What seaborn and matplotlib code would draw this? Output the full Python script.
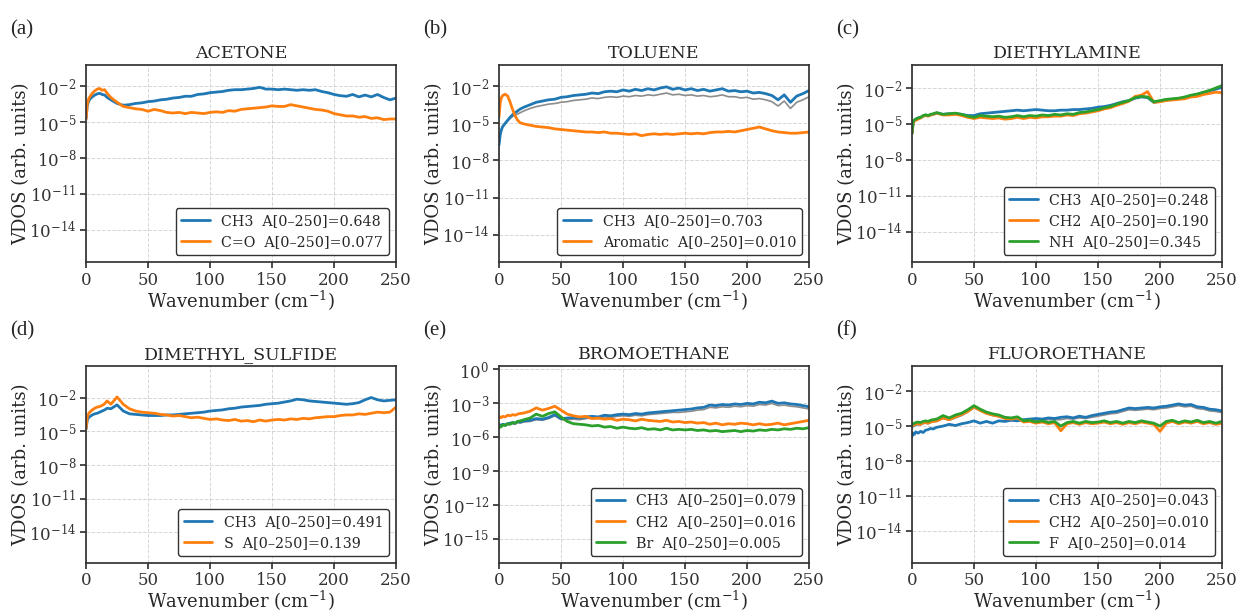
import matplotlib
matplotlib.use("Agg")
import matplotlib.pyplot as plt
from matplotlib.ticker import NullLocator
import numpy as np
import pandas as pd
import seaborn as sns

# wavenumber grid (cm^-1), denser at the low end where the peaks are
wavenumber = [0, 1, 2, 3, 5, 7, 9, 11, 13, 15, 17, 20, 25, 30, 35, 40, 45, 50, 55, 60,
              65, 70, 75, 80, 85, 90, 95, 100, 105, 110, 115, 120, 125, 130, 135, 140,
              145, 150, 155, 160, 165, 170, 175, 180, 185, 190, 195, 200, 205, 210, 215,
              220, 225, 230, 235, 240, 245, 250]

# log10(VDOS)
acetone_ch3 = [-4.7, -3.6, -3.3, -3.1, -2.9, -2.75, -2.65, -2.6, -2.7, -2.75, -2.95, -3.15, -3.45, -3.6,
               -3.55, -3.45, -3.4, -3.3, -3.25, -3.15, -3.1, -3.0, -2.95, -2.85, -2.85, -2.7, -2.65,
               -2.55, -2.5, -2.45, -2.35, -2.3, -2.3, -2.25, -2.2, -2.1, -2.25, -2.25, -2.3, -2.25,
               -2.3, -2.35, -2.3, -2.35, -2.3, -2.45, -2.55, -2.7, -2.8, -2.85, -2.7, -2.9, -2.75,
               -2.9, -2.7, -2.95, -3.15, -3.0]
acetone_co = [-4.8, -3.5, -3.1, -2.9, -2.6, -2.4, -2.25, -2.2, -2.35, -2.3, -2.6, -2.95, -3.35, -3.7,
              -3.8, -3.9, -3.95, -4.1, -3.95, -4.05, -4.2, -4.25, -4.2, -4.3, -4.2, -4.25, -4.3, -4.2,
              -4.15, -4.2, -4.05, -4.1, -3.95, -3.9, -3.85, -3.8, -3.75, -3.65, -3.7, -3.7, -3.55,
              -3.65, -3.75, -3.85, -3.95, -4.0, -4.1, -4.3, -4.4, -4.5, -4.5, -4.6, -4.55, -4.7,
              -4.65, -4.8, -4.75, -4.75]

toluene_ch3 = [-6.75, -5.9, -5.5, -5.25, -5.0, -4.75, -4.5, -4.3, -4.15, -4.0, -3.85, -3.7, -3.5, -3.3,
               -3.2, -3.1, -3.05, -2.9, -2.85, -2.75, -2.7, -2.65, -2.55, -2.6, -2.45, -2.4, -2.45,
               -2.3, -2.4, -2.25, -2.35, -2.2, -2.3, -2.15, -2.05, -2.25, -2.15, -2.3, -2.2, -2.35,
               -2.25, -2.4, -2.3, -2.2, -2.4, -2.35, -2.45, -2.4, -2.55, -2.5, -2.6, -2.75, -3.1,
               -2.7, -3.3, -2.8, -2.6, -2.35]
toluene_gray = [-6.75, -5.9, -5.5, -5.25, -5.0, -4.8, -4.6, -4.45, -4.35, -4.25, -4.15, -4.0, -3.8, -3.65,
                -3.55, -3.45, -3.4, -3.3, -3.25, -3.15, -3.1, -3.05, -2.95, -3.0, -2.9, -2.85, -2.9,
                -2.8, -2.85, -2.75, -2.8, -2.7, -2.75, -2.65, -2.55, -2.7, -2.65, -2.75, -2.7, -2.8,
                -2.75, -2.85, -2.8, -2.7, -2.85, -2.85, -2.95, -2.9, -3.05, -3.0, -3.1, -3.25, -3.6,
                -3.2, -3.8, -3.3, -3.1, -2.85]
toluene_arom = [-4.5, -3.3, -2.9, -2.75, -2.65, -2.8, -3.3, -3.9, -4.4, -4.75, -4.95, -5.05, -5.15, -5.25,
                -5.3, -5.35, -5.45, -5.5, -5.55, -5.6, -5.65, -5.7, -5.7, -5.75, -5.7, -5.8, -5.8, -5.85,
                -5.9, -5.85, -6.0, -5.9, -5.85, -5.9, -5.85, -5.9, -5.85, -5.8, -5.85, -5.8, -5.85,
                -5.75, -5.7, -5.7, -5.65, -5.7, -5.6, -5.5, -5.4, -5.3, -5.45, -5.6, -5.7, -5.75, -5.8,
                -5.8, -5.75, -5.7]

dea_ch3 = [-5.8, -4.85, -4.7, -4.6, -4.5, -4.45, -4.35, -4.25, -4.3, -4.25, -4.2, -4.1, -4.2, -4.15,
           -4.15, -4.2, -4.3, -4.3, -4.15, -4.1, -4.05, -4.0, -3.95, -3.9, -3.85, -3.9, -3.85, -3.8,
           -3.85, -3.9, -3.9, -3.85, -3.85, -3.8, -3.8, -3.75, -3.7, -3.6, -3.55, -3.45, -3.3, -3.15,
           -3.05, -2.85, -2.75, -2.8, -3.2, -3.1, -3.0, -2.95, -2.9, -2.8, -2.65, -2.55, -2.4, -2.25,
           -2.1, -1.95]
dea_ch2 = [-5.8, -4.9, -4.75, -4.7, -4.6, -4.5, -4.35, -4.3, -4.35, -4.25, -4.2, -4.1, -4.25, -4.25,
           -4.2, -4.3, -4.45, -4.55, -4.45, -4.5, -4.55, -4.5, -4.6, -4.55, -4.45, -4.55, -4.45, -4.5,
           -4.4, -4.4, -4.35, -4.35, -4.25, -4.3, -4.15, -4.1, -4.0, -3.9, -3.75, -3.65, -3.45, -3.3,
           -3.1, -2.7, -2.6, -2.3, -3.2, -3.15, -3.05, -3.0, -2.95, -2.9, -2.75, -2.7, -2.55, -2.45,
           -2.35, -2.4]
dea_nh = [-5.8, -4.8, -4.65, -4.6, -4.5, -4.45, -4.3, -4.25, -4.3, -4.2, -4.15, -4.05, -4.2, -4.15,
          -4.1, -4.2, -4.35, -4.45, -4.3, -4.35, -4.4, -4.35, -4.45, -4.4, -4.3, -4.4, -4.3, -4.35,
          -4.25, -4.3, -4.2, -4.25, -4.15, -4.2, -4.05, -4.0, -3.9, -3.8, -3.65, -3.55, -3.35, -3.2,
          -3.05, -2.8, -2.7, -2.75, -3.15, -3.05, -2.95, -2.9, -2.85, -2.75, -2.6, -2.5, -2.35, -2.2,
          -2.0, -1.8]

dms_ch3 = [-4.8, -4.0, -3.8, -3.7, -3.55, -3.45, -3.4, -3.3, -3.2, -3.1, -2.95, -3.0, -2.65, -3.2,
           -3.45, -3.5, -3.55, -3.6, -3.6, -3.6, -3.55, -3.55, -3.5, -3.45, -3.4, -3.35, -3.3, -3.2,
           -3.15, -3.1, -3.0, -2.95, -2.85, -2.8, -2.75, -2.7, -2.6, -2.55, -2.5, -2.4, -2.3, -2.15,
           -2.2, -2.3, -2.35, -2.4, -2.45, -2.5, -2.55, -2.6, -2.55, -2.45, -2.2, -2.0, -2.2, -2.3,
           -2.25, -2.2]
dms_s = [-4.8, -3.7, -3.45, -3.3, -3.1, -2.95, -2.85, -2.8, -2.7, -2.55, -2.3, -2.6, -1.95, -2.6,
         -3.0, -3.2, -3.3, -3.35, -3.4, -3.5, -3.55, -3.65, -3.6, -3.7, -3.8, -3.75, -3.85, -3.95,
         -3.9, -4.0, -4.05, -3.95, -4.1, -4.05, -4.15, -4.0, -4.1, -4.0, -3.95, -4.0, -3.9, -3.95,
         -3.85, -3.9, -3.8, -3.75, -3.7, -3.7, -3.6, -3.55, -3.55, -3.45, -3.5, -3.4, -3.3, -3.35,
         -3.3, -2.85]

brome_gray = [-5.1, -5.0, -5.05, -4.95, -5.0, -4.9, -4.85, -4.8, -4.85, -4.7, -4.75, -4.65, -4.6, -4.45,
              -4.5, -4.35, -4.1, -4.45, -4.45, -4.4, -4.45, -4.35, -4.3, -4.35, -4.2, -4.25, -4.15,
              -4.1, -4.15, -4.05, -4.1, -4.0, -3.95, -3.9, -3.85, -3.8, -3.8, -3.75, -3.7, -3.6, -3.55,
              -3.35, -3.4, -3.3, -3.35, -3.25, -3.3, -3.2, -3.25, -3.1, -3.15, -3.0, -3.2, -3.15, -3.25,
              -3.3, -3.4, -3.5]
brome_ch3 = [-5.0, -4.9, -4.95, -4.85, -4.9, -4.8, -4.75, -4.7, -4.75, -4.6, -4.65, -4.55, -4.5, -4.35,
             -4.4, -4.25, -4.0, -4.35, -4.3, -4.25, -4.3, -4.2, -4.15, -4.2, -4.05, -4.1, -4.0, -3.95,
             -4.0, -3.9, -3.95, -3.85, -3.8, -3.75, -3.7, -3.65, -3.6, -3.55, -3.5, -3.4, -3.35, -3.15,
             -3.2, -3.1, -3.15, -3.05, -3.1, -3.0, -3.05, -2.9, -2.95, -2.8, -3.0, -2.95, -3.05, -3.1,
             -3.2, -3.3]
brome_ch2 = [-4.3, -4.2, -4.25, -4.15, -4.2, -4.05, -4.1, -4.0, -4.05, -3.95, -3.9, -3.85, -3.7, -3.4,
             -3.6, -3.45, -3.25, -3.6, -3.95, -4.1, -4.2, -4.15, -4.35, -4.3, -4.4, -4.35, -4.5, -4.4,
             -4.45, -4.55, -4.4, -4.5, -4.55, -4.6, -4.5, -4.65, -4.6, -4.7, -4.65, -4.75, -4.7, -4.85,
             -4.75, -4.9, -4.8, -4.85, -4.75, -4.8, -4.9, -4.8, -4.9, -4.85, -4.75, -4.9, -4.8, -4.7,
             -4.6, -4.5]
brome_br = [-5.2, -5.0, -5.05, -4.9, -4.95, -4.8, -4.85, -4.7, -4.75, -4.6, -4.55, -4.45, -4.3, -3.95,
            -4.15, -3.9, -3.75, -4.2, -4.6, -4.8, -4.85, -4.9, -5.0, -4.95, -5.1, -5.05, -5.2, -5.1,
            -5.2, -5.25, -5.15, -5.3, -5.25, -5.35, -5.2, -5.35, -5.3, -5.35, -5.3, -5.4, -5.35, -5.45,
            -5.4, -5.5, -5.45, -5.4, -5.5, -5.4, -5.45, -5.35, -5.4, -5.3, -5.35, -5.25, -5.3, -5.2,
            -5.25, -5.15]

fluoro_gray = [-5.2, -5.05, -5.0, -4.95, -4.9, -4.9, -4.8, -4.75, -4.8, -4.7, -4.65, -4.6, -4.35, -4.5,
               -4.3, -4.1, -3.8, -3.45, -3.7, -3.95, -4.1, -4.2, -4.35, -4.4, -4.35, -4.55, -4.5, -4.5,
               -4.5, -4.45, -4.45, -4.45, -4.35, -4.4, -4.3, -4.35, -4.25, -4.15, -4.05, -3.95, -3.9,
               -3.75, -3.6, -3.65, -3.6, -3.55, -3.6, -3.5, -3.45, -3.35, -3.25, -3.35, -3.3, -3.5,
               -3.55, -3.7, -3.75, -3.85]
fluoro_ch3 = [-5.9, -5.6, -5.7, -5.5, -5.6, -5.45, -5.55, -5.35, -5.3, -5.2, -5.25, -5.1, -5.0, -4.85,
              -4.95, -4.8, -4.7, -4.55, -4.75, -4.6, -4.75, -4.55, -4.6, -4.5, -4.55, -4.45, -4.4,
              -4.35, -4.4, -4.3, -4.35, -4.25, -4.2, -4.3, -4.15, -4.25, -4.1, -4.0, -3.9, -3.8, -3.75,
              -3.6, -3.45, -3.5, -3.45, -3.4, -3.45, -3.35, -3.3, -3.2, -3.1, -3.2, -3.15, -3.35, -3.4,
              -3.55, -3.6, -3.7]
fluoro_ch2 = [-5.0, -4.9, -4.85, -4.8, -4.8, -4.85, -4.7, -4.7, -4.75, -4.65, -4.6, -4.55, -4.3, -4.45,
              -4.2, -4.0, -3.75, -3.35, -3.65, -3.9, -4.05, -4.15, -4.35, -4.4, -4.3, -4.65, -4.6,
              -4.75, -4.65, -4.8, -4.7, -5.4, -4.8, -4.7, -4.85, -4.7, -4.8, -4.75, -4.65, -4.8, -4.7,
              -4.85, -4.7, -4.8, -4.65, -4.75, -4.85, -5.45, -4.75, -4.6, -4.8, -4.65, -4.75, -4.6,
              -4.8, -4.7, -4.85, -4.75]
fluoro_f = [-4.9, -4.8, -4.75, -4.7, -4.65, -4.7, -4.6, -4.55, -4.6, -4.5, -4.45, -4.4, -4.1, -4.3,
            -4.05, -3.9, -3.6, -3.25, -3.55, -3.8, -3.95, -4.05, -4.25, -4.3, -4.2, -4.55, -4.5, -4.65,
            -4.55, -4.7, -4.6, -5.0, -4.7, -4.6, -4.75, -4.6, -4.7, -4.65, -4.55, -4.7, -4.6, -4.75,
            -4.6, -4.7, -4.55, -4.65, -4.75, -5.0, -4.6, -4.5, -4.7, -4.55, -4.65, -4.5, -4.7, -4.6,
            -4.75, -4.6]

titles = ["ACETONE", "TOLUENE", "DIETHYLAMINE", "DIMETHYL_SULFIDE", "BROMOETHANE", "FLUOROETHANE"]
letters = ["(a)", "(b)", "(c)", "(d)", "(e)", "(f)"]
ylims_log = [(-16.7, -0.25), (-16.2, -0.3), (-16.5, -0.1), (-16.7, 0.8), (-17.1, 0.3), (-16.7, 0.14)]
yticks_log = [[-2, -5, -8, -11, -14]] * 4 + [[0, -3, -6, -9, -12, -15]] + [[-2, -5, -8, -11, -14]]

# (label, values, colour) per panel; label None = unlabeled grey curve
BLUE, ORANGE, GREEN, GREY = "#1f77b4", "#ff7f0e", "#2ca02c", "#8c8c8c"
panels = [
    [("CH3  A[0\u2013250]=0.648", acetone_ch3, BLUE),
     ("C=O  A[0\u2013250]=0.077", acetone_co, ORANGE)],
    [(None, toluene_gray, GREY),
     ("CH3  A[0\u2013250]=0.703", toluene_ch3, BLUE),
     ("Aromatic  A[0\u2013250]=0.010", toluene_arom, ORANGE)],
    [("CH3  A[0\u2013250]=0.248", dea_ch3, BLUE),
     ("CH2  A[0\u2013250]=0.190", dea_ch2, ORANGE),
     ("NH  A[0\u2013250]=0.345", dea_nh, GREEN)],
    [("CH3  A[0\u2013250]=0.491", dms_ch3, BLUE),
     ("S  A[0\u2013250]=0.139", dms_s, ORANGE)],
    [(None, brome_gray, GREY),
     ("CH3  A[0\u2013250]=0.079", brome_ch3, BLUE),
     ("CH2  A[0\u2013250]=0.016", brome_ch2, ORANGE),
     ("Br  A[0\u2013250]=0.005", brome_br, GREEN)],
    [(None, fluoro_gray, GREY),
     ("CH3  A[0\u2013250]=0.043", fluoro_ch3, BLUE),
     ("CH2  A[0\u2013250]=0.010", fluoro_ch2, ORANGE),
     ("F  A[0\u2013250]=0.014", fluoro_f, GREEN)],
]

sns.set_theme(style="ticks")
plt.rcParams["font.family"] = ["DejaVu Serif"]
plt.rcParams["mathtext.fontset"] = "dejavuserif"
plt.rcParams["axes.edgecolor"] = "#333333"
plt.rcParams["xtick.color"] = "#333333"
plt.rcParams["ytick.color"] = "#333333"

fig, axes = plt.subplots(2, 3, figsize=(12.4, 6.15), dpi=100)
fig.subplots_adjust(left=0.0694, right=0.9855, top=0.894, bottom=0.085,
                    wspace=0.332, hspace=0.53)

for i, ax in enumerate(axes.flat):
    ax.set_yscale("log")
    for label, vals, col in panels[i]:
        df = pd.DataFrame({"x": wavenumber, "y": 10.0 ** np.array(vals)})
        if label is None:
            sns.lineplot(data=df, x="x", y="y", ax=ax, color=col, lw=1.2, sort=False)
        else:
            sns.lineplot(data=df, x="x", y="y", ax=ax, color=col, lw=2.0, sort=False, label=label)
    ax.set_xlim(0, 250)
    ax.set_xticks([0, 50, 100, 150, 200, 250])
    lo, hi = ylims_log[i]
    ax.set_ylim(10 ** lo, 10 ** hi)
    ax.set_yticks([10.0 ** t for t in yticks_log[i]])
    ax.yaxis.set_minor_locator(NullLocator())
    ax.tick_params(labelsize=12, length=4, pad=3)
    ax.grid(True, ls="--", lw=0.7, color="#cccccc", alpha=0.8)
    ax.set_title(titles[i], fontsize=12.5, pad=5)
    ax.set_xlabel("Wavenumber (cm$^{-1}$)", fontsize=13, labelpad=0)
    ax.set_ylabel("VDOS (arb. units)", fontsize=13, labelpad=-1)
    leg = ax.legend(loc="lower right", fontsize=10.3, framealpha=1)
    leg.get_frame().set_edgecolor("#333333")
    ax.text(-0.245, 1.18, letters[i], transform=ax.transAxes, fontsize=15,
            family="Liberation Serif", va="center", ha="left")

fig.savefig("out.png", dpi=100)
